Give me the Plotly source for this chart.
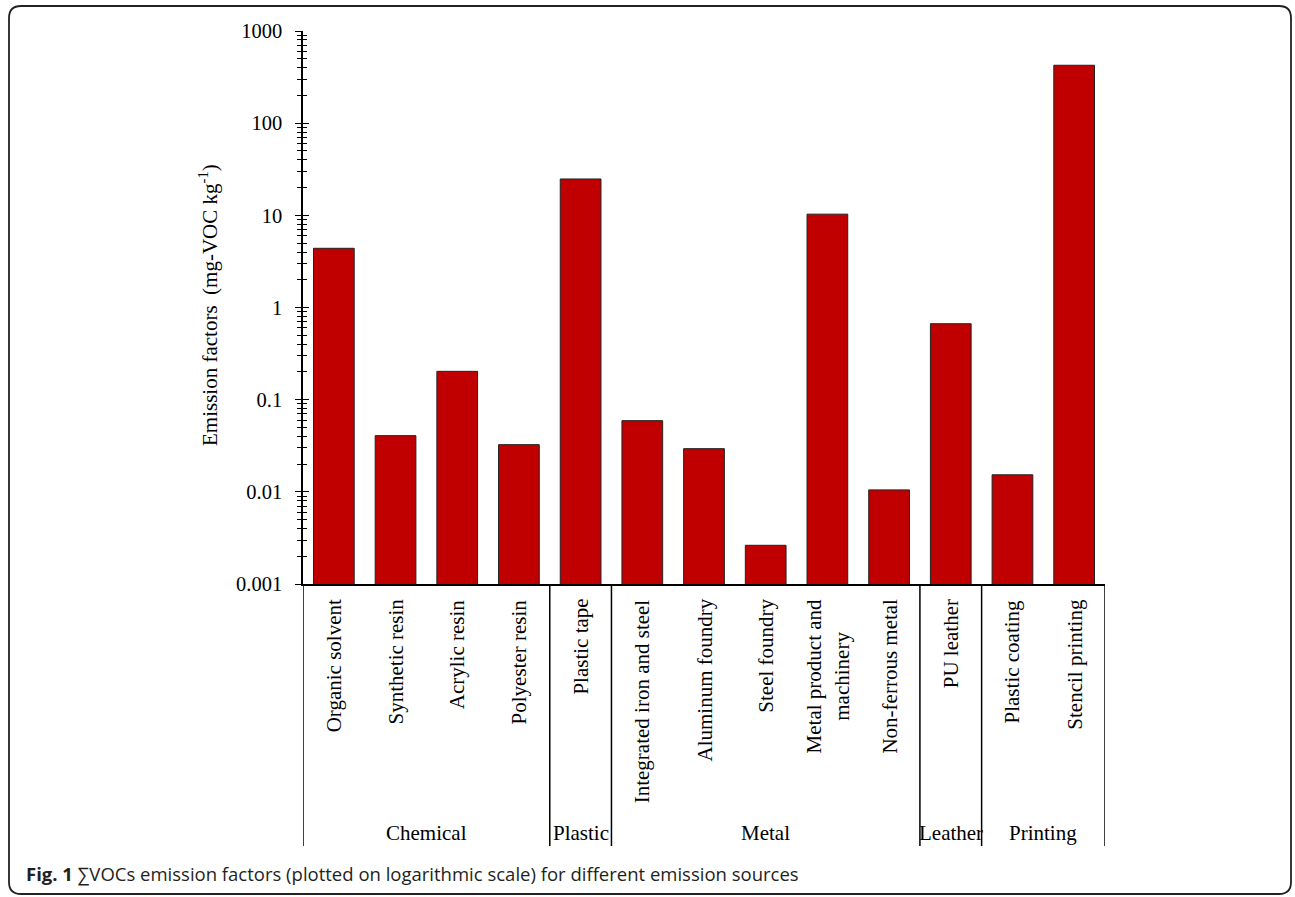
import plotly.graph_objects as go

categories = ["Organic solvent", "Synthetic resin", "Acrylic resin", "Polyester resin",
              "Plastic tape",
              "Integrated iron and steel", "Aluminum foundry", "Steel foundry",
              "Metal product and<br>machinery", "Non-ferrous metal",
              "PU leather",
              "Plastic coating", "Stencil printing"]
values = [4.39, 0.0407, 0.203, 0.0325,
          24.8,
          0.0592, 0.0294, 0.00263, 10.3, 0.0105,
          0.667,
          0.0153, 425]
groups = ["Chemical"] * 4 + ["Plastic"] + ["Metal"] * 5 + ["Leather"] + ["Printing"] * 2
tick_vals = [0.001, 0.01, 0.1, 1, 10, 100, 1000]
tick_text = ["0.001", "0.01", "0.1", "1", "10", "100", "1000"]

# pixel geometry of the plot area
L, R, T, B = 303, 1105, 31, 584
W_, H_ = R - L, B - T
def px(x):
    return (x - L) / W_
def py(y):
    return (B - y) / H_

serif = "Liberation Serif"
minor_vals = [m * d for d in [0.001, 0.01, 0.1, 1, 10, 100] for m in range(2, 10)]

fig = go.Figure()
xs = list(range(len(categories)))
fig.add_trace(go.Bar(x=xs, y=values, width=0.66,
                     marker=dict(color="#C00000", line=dict(color="#222222", width=1)),
                     hoverinfo="skip", showlegend=False))
# invisible copy on overlay axis so inner ticks render
fig.add_trace(go.Bar(x=xs, y=values, width=0.66, yaxis="y2", opacity=0,
                     hoverinfo="skip", showlegend=False))

axis_common = dict(type="log", range=[-3, 3], tickmode="array", tickvals=tick_vals,
                   showgrid=False, zeroline=False, tickcolor="black", tickwidth=1.2,
                   ticklen=6,
                   minor=dict(tickmode="array", tickvals=minor_vals, ticks="", ticklen=4,
                              tickcolor="black", tickwidth=1.2, showgrid=False))

ya = dict(axis_common)
ya.update(ticks="outside", ticktext=tick_text, showline=True, linecolor="black",
          linewidth=1.5, tickfont=dict(family=serif, size=20.5, color="black"),
          ticklabelstandoff=9)
ya["minor"] = dict(axis_common["minor"], ticks="outside")
ya2 = dict(axis_common)
ya2.update(ticks="inside", showticklabels=False, overlaying="y", side="left",
           showline=False)
ya2["minor"] = dict(axis_common["minor"], ticks="inside")

fig.update_layout(
    width=1295, height=897,
    margin=dict(l=L, r=1295 - R, t=T, b=897 - B),
    paper_bgcolor="white", plot_bgcolor="white",
    bargap=0.34,
    xaxis=dict(range=[-0.5, len(categories) - 0.5], showline=True, linecolor="black",
               linewidth=1.5, ticks="", showticklabels=False, showgrid=False,
               zeroline=False),
    yaxis=ya, yaxis2=ya2,
)

annotations = []
# category labels
for i, c in enumerate(categories):
    annotations.append(dict(x=i, xref="x", y=py(597), yref="paper", text=c,
                            textangle=-90, xanchor="center", yanchor="top",
                            showarrow=False, align="center",
                            font=dict(family=serif, size=21, color="black")))
# group labels and separators
shapes = []
bounds = [-0.5]
start = 0
for i in range(1, len(groups) + 1):
    if i == len(groups) or groups[i] != groups[start]:
        center = (start + i - 1) / 2
        annotations.append(dict(x=center, xref="x", y=py(833), yref="paper",
                                text=groups[start], showarrow=False,
                                xanchor="center", yanchor="middle",
                                font=dict(family=serif, size=21, color="black")))
        bounds.append(i - 0.5)
        start = i
for b in bounds:
    shapes.append(dict(type="line", xref="x", yref="paper", x0=b, x1=b,
                       y0=0, y1=py(846), line=dict(color="black", width=1.5)))

# y axis title
annotations.append(dict(x=px(208), xref="paper", y=py(305), yref="paper",
                        text="Emission factors\u00a0\u00a0(mg-VOC kg<sup>-1</sup>)",
                        textangle=-90, showarrow=False, xanchor="center", yanchor="middle",
                        font=dict(family=serif, size=21, color="black")))
# caption
annotations.append(dict(x=px(24), xref="paper", y=py(873), yref="paper",
                        text="<b>Fig. 1</b> \u2211VOCs emission factors (plotted on logarithmic scale) for different emission sources",
                        showarrow=False, xanchor="left", yanchor="middle",
                        font=dict(family="Open Sans", size=18.5, color="#231f20")))

# rounded frame
x0, y0, x1, y1, r = 9, 6, 1291, 894, 12
def P(x, y):
    return f"{px(x):.5f},{py(y):.5f}"
path = (f"M {P(x0 + r, y0)} L {P(x1 - r, y0)} Q {P(x1, y0)} {P(x1, y0 + r)} "
        f"L {P(x1, y1 - r)} Q {P(x1, y1)} {P(x1 - r, y1)} "
        f"L {P(x0 + r, y1)} Q {P(x0, y1)} {P(x0, y1 - r)} "
        f"L {P(x0, y0 + r)} Q {P(x0, y0)} {P(x0 + r, y0)} Z")
shapes.append(dict(type="path", xref="paper", yref="paper", path=path,
                   line=dict(color="#222222", width=1.8)))

fig.update_layout(annotations=annotations, shapes=shapes)
fig.write_html("out.html")
